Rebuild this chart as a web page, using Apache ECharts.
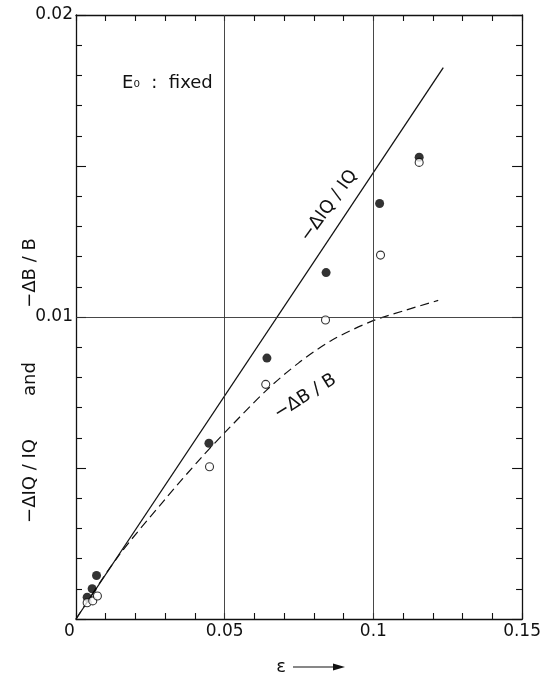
<!DOCTYPE html>
<html><head><meta charset="utf-8">
<script src="https://cdn.jsdelivr.net/npm/echarts/dist/echarts.min.js"></script>
<style>html,body{margin:0;padding:0;background:#fff}#c{width:544px;height:675px}</style>
</head><body><div id="c"></div>
<script>
// ---- data ----
const xTickValues = [0, 0.05, 0.1, 0.15];
const yLabelValues = [0.01, 0.02];
const gridX = [0.05, 0.1];
const gridY = [0.01];
const filledPts = [[0.00375,0.00072],[0.00543,0.00100],[0.00690,0.00144],[0.0447,0.00582],[0.0642,0.00864],[0.0841,0.01147],[0.1021,0.01376],[0.1154,0.01529]];
const openPts = [[0.00375,0.00054],[0.00563,0.00060],[0.0072,0.00076],[0.0449,0.00504],[0.0638,0.00777],[0.0839,0.0099],[0.1024,0.01205],[0.1154,0.01512]];
const solidLine = [[0,0],[0.1235,0.01826]];
const dashedCurve = [[0,0],[0.014,0.00205],[0.03,0.00397],[0.042,0.00533],[0.05,0.00617],[0.064,0.00757],[0.075,0.00849],[0.086,0.00923],[0.0997,0.00987],[0.111,0.01023],[0.1218,0.01055]];
const labelIQ = {pos:[0.0851,0.01368], angle:54};
const labelB = {pos:[0.0771,0.00736], angle:32};
const noteE = {pos:[0.0155,0.01775]};

const FONT = 'DejaVu Sans';
const chart = echarts.init(document.getElementById('c'), null, {renderer:'canvas'});
const axisLine = {show:true, onZero:false, lineStyle:{color:'#111', width:1.3}};
const baseX = {type:'value', min:0, max:0.15, interval:0.05, axisLine,
  splitLine:{show:false},
  axisTick:{inside:true, length:6, lineStyle:{color:'#111', width:1.1}},
  minorTick:{show:true, splitNumber:5, length:6, lineStyle:{color:'#111', width:1.1}}};
const baseY = {type:'value', min:0, max:0.02, interval:0.005, axisLine,
  splitLine:{show:false},
  axisTick:{inside:true, length:10, lineStyle:{color:'#111', width:1.1}},
  minorTick:{show:true, splitNumber:5, length:6, lineStyle:{color:'#111', width:1.1}}};

chart.setOption({
  animation:false,
  backgroundColor:'#fff',
  grid:{left:76, right:20.5, top:15, bottom:56},
  xAxis:[
    Object.assign({}, baseX, {position:'bottom',
      axisLabel:{show:true, margin:4, color:'#111', fontFamily:FONT, fontSize:17,
        formatter:v => { if (Math.abs(v) < 1e-12) return '{z|0}';
          const t = xTickValues.find(a => Math.abs(a - v) < 1e-9); return t === undefined ? '' : String(t); },
        rich:{z:{fontFamily:FONT, fontSize:17, color:'#111', padding:[0,13,0,0]}}}}),
    Object.assign({}, baseX, {position:'top', axisLabel:{show:false}})
  ],
  yAxis:[
    Object.assign({}, baseY, {position:'left',
      axisLabel:{show:true, margin:3, color:'#111', fontFamily:FONT, fontSize:17,
        formatter:v => { const t = yLabelValues.find(a => Math.abs(a - v) < 1e-9); return t === undefined ? '' : t.toFixed(2); }}}),
    Object.assign({}, baseY, {position:'right', axisLabel:{show:false}})
  ],
  series:[
    {type:'line', data:solidLine, symbol:'none', lineStyle:{color:'#111', width:1.3}, z:3,
      markLine:{silent:true, symbol:'none', label:{show:false},
        lineStyle:{color:'#333', width:0.9, type:'solid'},
        data:[...gridX.map(v => ({xAxis:v})), ...gridY.map(v => ({yAxis:v}))]}},
    {type:'line', data:dashedCurve, symbol:'none', smooth:0.3, lineStyle:{color:'#111', width:1.2, type:[9,5]}, z:3},
    {type:'scatter', data:filledPts, symbol:'circle', symbolSize:9, itemStyle:{color:'#000'}, z:4},
    {type:'scatter', data:openPts, symbol:'circle', symbolSize:8, itemStyle:{color:'#fff', borderColor:'#000', borderWidth:1.1}, z:5}
  ]
});

const px = p => chart.convertToPixel({xAxisIndex:0, yAxisIndex:0}, p);
const pIQ = px(labelIQ.pos), pB = px(labelB.pos), pE = px(noteE.pos);
const txt = (x, y, rot, text, size) => ({type:'text', x, y, rotation:rot*Math.PI/180,
  style:{text, fill:'#111', font:(size||18)+'px "DejaVu Sans"', align:'center', verticalAlign:'middle'}});
chart.setOption({graphic:[
  txt(pIQ[0], pIQ[1], labelIQ.angle, '−ΔIQ / IQ', 18),
  txt(pB[0], pB[1], labelB.angle, '−ΔB / B', 18),
  {type:'text', x:pE[0], y:pE[1], style:{text:'{e|E}{o|₀}{e|  :  fixed}', align:'left', verticalAlign:'middle',
    rich:{e:{fontFamily:FONT, fontSize:18, fill:'#111', color:'#111'}, o:{fontFamily:FONT, fontSize:16, fill:'#111', color:'#111'}}}},
  txt(30, 273, 90, '−ΔB / B', 18),
  txt(30, 379, 90, 'and', 18),
  txt(30, 481, 90, '−ΔIQ / IQ', 18),
  txt(281, 667, 0, 'ε', 18),
  {type:'line', shape:{x1:293, y1:667, x2:336, y2:667}, style:{stroke:'#111', lineWidth:1.2}},
  {type:'polygon', shape:{points:[[345,667],[333,663.5],[333,670.5]]}, style:{fill:'#111'}}
]});
</script>
</body></html>
